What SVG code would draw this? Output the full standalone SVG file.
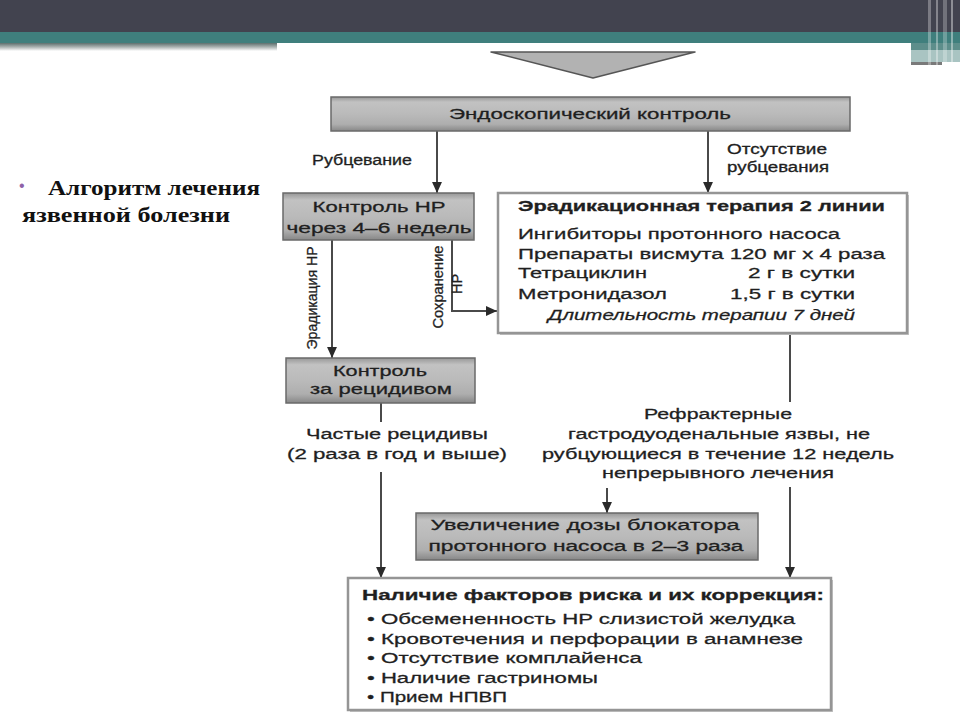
<svg xmlns="http://www.w3.org/2000/svg" width="960" height="720" viewBox="0 0 960 720">
<style>
.t{font-family:"Liberation Sans",Arial,sans-serif;fill:#1f1f1f;font-size:15.5px;stroke:#1f1f1f;stroke-width:0.3}
.b{font-weight:bold}
.i{font-style:italic}
.m{text-anchor:middle}
.s{font-size:14px}
.v{font-size:14.5px}
.conn{stroke:#4a4a4a;stroke-width:2;fill:none}
.gbox{fill:url(#gg);stroke:#6a6a6a;stroke-width:1.5}
.wbox{fill:#fff;stroke:#959595;stroke-width:2.5}
.shadow{fill:#c4c4c4}
.side{font-family:"Liberation Serif","Times New Roman",serif;font-weight:bold;font-size:21.5px;fill:#111}
</style>
<defs>
<linearGradient id="gg" x1="0" y1="0" x2="0" y2="1">
<stop offset="0" stop-color="#979797"/>
<stop offset="0.15" stop-color="#c2c2c2"/>
<stop offset="0.5" stop-color="#bababa"/>
<stop offset="0.8" stop-color="#aeaeae"/>
<stop offset="1" stop-color="#878787"/>
</linearGradient>
<linearGradient id="sh" x1="0" y1="0" x2="0" y2="1">
<stop offset="0" stop-color="#5d706e"/>
<stop offset="0.5" stop-color="#a9b2b1"/>
<stop offset="1" stop-color="#ffffff"/>
</linearGradient>
<marker id="ah" markerUnits="userSpaceOnUse" viewBox="0 0 10 9" refX="10" refY="4.5" markerWidth="11" markerHeight="10" orient="auto">
<path d="M0,0 L10,4.5 L0,9 z" fill="#2a2a2a"/>
</marker>
</defs>

<g id="slide-bg">
<rect x="0" y="0" width="960" height="720" fill="#ffffff"/>
<rect x="0" y="0" width="960" height="32" fill="#42434f"/>
<rect x="0" y="32" width="960" height="11" fill="#3f7f7d"/>
<rect x="0" y="43" width="277" height="8" fill="url(#sh)"/>
<rect x="911" y="43" width="49" height="7" fill="#5d8e8b"/>
<rect x="911" y="50" width="49" height="12" fill="#a9c4c2"/>
<rect x="911" y="62" width="31" height="3" fill="#7a7a7a"/>
<rect x="928" y="0" width="3" height="66" fill="#ffffff" opacity="0.3"/>
<rect x="936" y="0" width="2" height="66" fill="#ffffff" opacity="0.35"/>
<rect x="943" y="0" width="4" height="66" fill="#ffffff" opacity="0.25"/>
<rect x="951" y="0" width="2" height="66" fill="#ffffff" opacity="0.4"/>
</g>

<g id="side-title">
<text x="19" y="191" style="font-family:'Liberation Sans',Arial,sans-serif;font-size:16px;fill:#8e62a8">•</text>
<text class="side" x="48" y="195" textLength="212" lengthAdjust="spacingAndGlyphs">Алгоритм лечения</text>
<text class="side" x="22" y="222" textLength="208" lengthAdjust="spacingAndGlyphs">язвенной болезни</text>
</g>

<g id="top-arrow">
<polygon points="491,52 695,52 593,78" fill="#b2b2b2" stroke="#555" stroke-width="1.5" stroke-linejoin="round"/>
</g>

<g id="connectors">
<line class="conn" x1="437" y1="131" x2="437" y2="193" marker-end="url(#ah)"/>
<line class="conn" x1="708" y1="131" x2="708" y2="193" marker-end="url(#ah)"/>
<line class="conn" x1="332" y1="240" x2="332" y2="358" marker-end="url(#ah)"/>
<polyline class="conn" points="452,240 452,311 497,311" marker-end="url(#ah)"/>
<line class="conn" x1="381" y1="403" x2="381" y2="422"/>
<line class="conn" x1="381" y1="472" x2="381" y2="578" marker-end="url(#ah)"/>
<line class="conn" x1="790" y1="333" x2="790" y2="402"/>
<line class="conn" x1="790" y1="487" x2="790" y2="578" marker-end="url(#ah)"/>
<line class="conn" x1="607" y1="488" x2="607" y2="513" marker-end="url(#ah)"/>
</g>

<g id="connector-labels">
<text class="t s" x="312" y="165" textLength="100" lengthAdjust="spacingAndGlyphs">Рубцевание</text>
<text class="t s" x="727" y="154" textLength="100" lengthAdjust="spacingAndGlyphs">Отсутствие</text>
<text class="t s" x="727" y="172" textLength="102" lengthAdjust="spacingAndGlyphs">рубцевания</text>
<text class="t v m" transform="translate(317,298) rotate(-90)" textLength="103" lengthAdjust="spacingAndGlyphs">Эрадикация HP</text>
<text class="t v m" transform="translate(443,287) rotate(-90)" textLength="83" lengthAdjust="spacingAndGlyphs">Сохранение</text>
<text class="t v m" transform="translate(462,284) rotate(-90)">HP</text>
<text class="t m" x="397" y="439" textLength="182" lengthAdjust="spacingAndGlyphs">Частые рецидивы</text>
<text class="t m" x="397" y="459" textLength="220" lengthAdjust="spacingAndGlyphs">(2 раза в год и выше)</text>
<text class="t m" x="718" y="419" textLength="148" lengthAdjust="spacingAndGlyphs">Рефрактерные</text>
<text class="t m" x="719" y="439" textLength="302" lengthAdjust="spacingAndGlyphs">гастродуоденальные язвы, не</text>
<text class="t m" x="718" y="459" textLength="352" lengthAdjust="spacingAndGlyphs">рубцующиеся в течение 12 недель</text>
<text class="t m" x="718" y="478" textLength="232" lengthAdjust="spacingAndGlyphs">непрерывного лечения</text>
</g>

<g id="node-endoscopy">
<rect class="gbox" x="331" y="97" width="519" height="34"/>
<text class="t m" x="590" y="119" textLength="282" lengthAdjust="spacingAndGlyphs">Эндоскопический контроль</text>
</g>

<g id="node-hp-control">
<rect class="gbox" x="283" y="193" width="191" height="47"/>
<text class="t m" x="379" y="212" textLength="133" lengthAdjust="spacingAndGlyphs">Контроль HP</text>
<text class="t m" x="379" y="233" textLength="185" lengthAdjust="spacingAndGlyphs">через 4–6 недель</text>
</g>

<g id="node-eradication">
<rect class="shadow" x="500" y="195" width="409" height="140"/>
<rect class="wbox" x="498" y="193" width="409" height="140"/>
<text class="t b" x="518" y="211" textLength="367" lengthAdjust="spacingAndGlyphs">Эрадикационная терапия 2 линии</text>
<text class="t" x="518" y="239" textLength="322" lengthAdjust="spacingAndGlyphs">Ингибиторы протонного насоса</text>
<text class="t" x="518" y="259" textLength="367" lengthAdjust="spacingAndGlyphs">Препараты висмута 120 мг х 4 раза</text>
<text class="t" x="518" y="278" textLength="129" lengthAdjust="spacingAndGlyphs">Тетрациклин</text>
<text class="t" x="748" y="278" textLength="107" lengthAdjust="spacingAndGlyphs">2 г в сутки</text>
<text class="t" x="518" y="299" textLength="149" lengthAdjust="spacingAndGlyphs">Метронидазол</text>
<text class="t" x="730" y="299" textLength="125" lengthAdjust="spacingAndGlyphs">1,5 г в сутки</text>
<text class="t i" x="548" y="320" textLength="307" lengthAdjust="spacingAndGlyphs">Длительность терапии 7 дней</text>
</g>

<g id="node-relapse-control">
<rect class="gbox" x="286" y="358" width="189" height="45"/>
<text class="t m" x="380" y="376" textLength="94" lengthAdjust="spacingAndGlyphs">Контроль</text>
<text class="t m" x="381" y="394" textLength="142" lengthAdjust="spacingAndGlyphs">за рецидивом</text>
</g>

<g id="node-dose-increase">
<rect class="gbox" x="416" y="513" width="342" height="47"/>
<text class="t m" x="585" y="530" textLength="309" lengthAdjust="spacingAndGlyphs">Увеличение дозы блокатора</text>
<text class="t m" x="586" y="551" textLength="315" lengthAdjust="spacingAndGlyphs">протонного насоса в 2–3 раза</text>
</g>

<g id="node-risk-factors">
<rect class="shadow" x="350" y="580" width="483" height="132"/>
<rect class="wbox" x="348" y="578" width="483" height="132"/>
<text class="t b" x="362" y="600" textLength="462" lengthAdjust="spacingAndGlyphs">Наличие факторов риска и их коррекция:</text>
<text class="t" x="367" y="624" textLength="428" lengthAdjust="spacingAndGlyphs">• Обсемененность HP слизистой желудка</text>
<text class="t" x="367" y="644" textLength="436" lengthAdjust="spacingAndGlyphs">• Кровотечения и перфорации в анамнезе</text>
<text class="t" x="367" y="663" textLength="275" lengthAdjust="spacingAndGlyphs">• Отсутствие комплайенса</text>
<text class="t" x="367" y="683" textLength="231" lengthAdjust="spacingAndGlyphs">• Наличие гастриномы</text>
<text class="t" x="367" y="702" textLength="140" lengthAdjust="spacingAndGlyphs">• Прием НПВП</text>
</g>
</svg>
